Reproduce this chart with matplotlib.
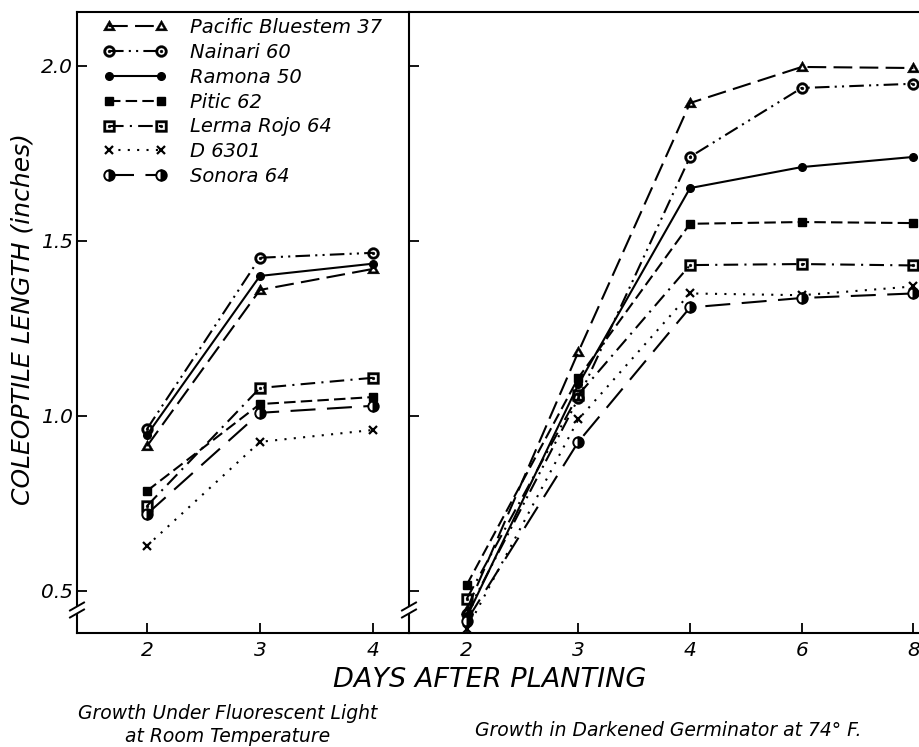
import numpy as np
import matplotlib
matplotlib.use("Agg")
import matplotlib.pyplot as plt
from matplotlib.path import Path
from matplotlib.lines import Line2D
from matplotlib.patches import Rectangle

plt.rcParams["font.family"] = ["DejaVu Sans"]
plt.rcParams["font.style"] = "italic"

# ---------------- data ----------------
days_left = ["2", "3", "4"]
days_right = ["2", "3", "4", "6", "8"]

labels = ["Pacific Bluestem 37", "Nainari 60", "Ramona 50", "Pitic 62",
          "Lerma Rojo 64", "D 6301", "Sonora 64"]

# Growth under fluorescent light at room temperature
pacific_left = [0.914, 1.36, 1.42]
nainari_left = [0.963, 1.452, 1.466]
ramona_left = [0.946, 1.40, 1.435]
pitic_left = [0.786, 1.034, 1.054]
lerma_left = [0.743, 1.08, 1.109]
d6301_left = [0.629, 0.926, 0.96]
sonora_left = [0.72, 1.009, 1.029]

# Growth in darkened germinator at 74 F
pacific_right = [0.446, 1.183, 1.894, 1.997, 1.994]
nainari_right = [0.435, 1.05, 1.74, 1.937, 1.949]
ramona_right = [0.425, 1.09, 1.651, 1.711, 1.74]
pitic_right = [0.517, 1.109, 1.549, 1.554, 1.551]
lerma_right = [0.477, 1.06, 1.431, 1.434, 1.43]
d6301_right = [0.39, 0.99, 1.35, 1.345, 1.37]
sonora_right = [0.415, 0.926, 1.31, 1.337, 1.35]

yticks = [0.5, 1.0, 1.5, 2.0]
ytick_labels = ["0.5", "1.0", "1.5", "2.0"]


# ---------------- custom markers ----------------
def _sub(pts):
    pts = np.asarray(pts, float)
    v = np.vstack([pts, pts[:1]])
    c = [Path.MOVETO] + [Path.LINETO] * (len(pts) - 1) + [Path.CLOSEPOLY]
    return v, c


def _compound(*parts):
    verts = np.vstack([p[0] for p in parts])
    codes = sum([p[1] for p in parts], [])
    return Path(verts, codes)


def _circle(r, cx=0.0, cy=0.0, n=40, reverse=False):
    t = np.linspace(0, 2 * np.pi, n, endpoint=False)
    pts = np.c_[cx + r * np.cos(t), cy + r * np.sin(t)]
    return pts[::-1] if reverse else pts


ring_dot = _compound(_sub(_circle(1.0)), _sub(_circle(0.6, reverse=True)),
                     _sub(_circle(0.24)))
sq_out = np.array([[-1, -1], [1, -1], [1, 1], [-1, 1]], float)
square_dot = _compound(_sub(sq_out), _sub((sq_out * 0.6)[::-1]),
                       _sub(_circle(0.24)))
tri_out = np.array([[0, 1.0], [-0.98, -0.7], [0.98, -0.7]])
cen = tri_out.mean(axis=0)
tri_in = (cen + 0.42 * (tri_out - cen))[::-1]
triangle_dot = _compound(_sub(tri_out), _sub(tri_in))

LW = 1.5
styles = [
    dict(ls=(0, (9, 3.5)), marker=triangle_dot, ms=9, mfc="black", mec="black", mew=0.3),
    dict(ls=(0, (7, 2.5, 1, 2.5, 1, 2.5)), marker=ring_dot, ms=8.5, mfc="black", mec="black", mew=0.3),
    dict(ls="-", marker="o", ms=5.5, mfc="black", mec="black"),
    dict(ls=(0, (5.5, 2.5)), marker="s", ms=6, mfc="black", mec="black"),
    dict(ls=(0, (7, 3, 1, 3)), marker=square_dot, ms=8.5, mfc="black", mec="black", mew=0.3),
    dict(ls=(0, (1, 3.5)), marker="x", ms=6, mfc="black", mec="black", mew=1.6),
    dict(ls=(0, (12, 5.5)), marker="o", ms=7.5, mfc="black", mec="black", mew=1.4,
         fillstyle="right", markerfacecoloralt="white"),
]

left_series = [pacific_left, nainari_left, ramona_left, pitic_left,
               lerma_left, d6301_left, sonora_left]
right_series = [pacific_right, nainari_right, ramona_right, pitic_right,
                lerma_right, d6301_right, sonora_right]

# ---------------- figure ----------------
W, H = 919, 747
fig = plt.figure(figsize=(W / 100, H / 100), dpi=100)
fig.patch.set_facecolor("white")

axL = fig.add_axes([77 / W, 114 / H, 332 / W, 621 / H])
axR = fig.add_axes([409 / W, 114 / H, 510 / W, 621 / H])

handles = []
for vals, st, lab in zip(left_series, styles, labels):
    h, = axL.plot(days_left, vals, color="black", lw=LW, label=lab,
                  clip_on=False, zorder=3, **st)
    handles.append(h)
for vals, st in zip(right_series, styles):
    axR.plot(days_right, vals, color="black", lw=LW, clip_on=False,
             zorder=3, **st)

for ax in (axL, axR):
    ax.set_ylim(0.38, 2.154)
    ax.set_yticks(yticks)
    for s in ax.spines.values():
        s.set_linewidth(1.5)
    ax.spines["right"].set_visible(False)
    ax.tick_params(direction="in", length=7, width=1.3, labelsize=14.5)
    ax.tick_params(axis="x", pad=6)
    ax.tick_params(axis="y", pad=3)

axL.set_xlim(-0.62, 2.32)
axR.set_xlim(-0.516, 4.05)
axL.set_yticklabels(ytick_labels)
axR.set_yticklabels([])

leg = axL.legend(handles=handles, loc="upper left",
                 bbox_to_anchor=(103 / W, 1 - 18 / H),
                 bbox_transform=fig.transFigure, frameon=False,
                 fontsize=14, numpoints=2, handlelength=3.3,
                 handletextpad=1.2, labelspacing=0.3, borderpad=0,
                 borderaxespad=0)

# axis break marks
for xpx in (77, 409):
    ypx = H - 610
    fig.add_artist(Rectangle(((xpx - 3) / W, (ypx - 4) / H), 6 / W, 8 / H,
                             transform=fig.transFigure, facecolor="white",
                             edgecolor="none", zorder=10))
    for dy in (-3.5, 3.5):
        fig.add_artist(Line2D([(xpx - 7) / W, (xpx + 7) / W],
                              [(ypx + dy - 4) / H, (ypx + dy + 4) / H],
                              transform=fig.transFigure, color="black",
                              lw=1.4, zorder=11))

# texts
fig.text(490 / W, 1 - 680 / H, "DAYS AFTER PLANTING", ha="center",
         va="center", fontsize=19.5)
fig.text(23 / W, 1 - 319 / H, "COLEOPTILE LENGTH (inches)", ha="center",
         va="center", rotation=90, fontsize=18)
fig.text(228 / W, 1 - 725 / H, "Growth Under Fluorescent Light\nat Room Temperature",
         ha="center", va="center", fontsize=13.5, linespacing=1.25,
         multialignment="center")
fig.text(668 / W, 1 - 730 / H, "Growth in Darkened Germinator at 74° F.",
         ha="center", va="center", fontsize=13.5)

fig.savefig("out.png", dpi=100, facecolor="white")
